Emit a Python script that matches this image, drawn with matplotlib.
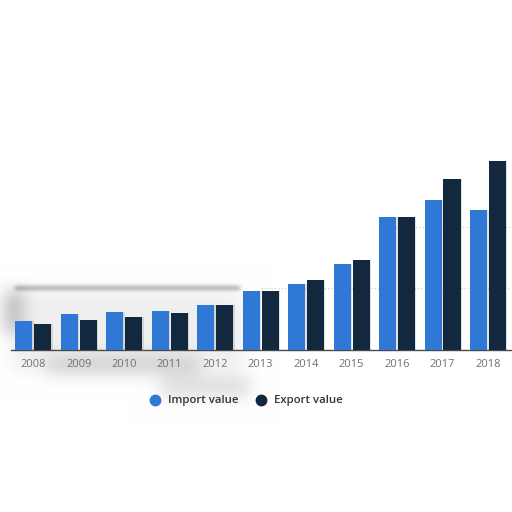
import numpy as np
import matplotlib.pyplot as plt
import matplotlib.patheffects as pe
from matplotlib.lines import Line2D

years = ['2008', '2009', '2010', '2011', '2012', '2013',
         '2014', '2015', '2016', '2017', '2018']
import_value = [46, 58, 61, 63, 72, 96, 106, 139, 215, 243, 227]
export_value = [41, 48, 53, 59, 72, 96, 113, 145, 216, 277, 307]

import_color = '#2f78d6'
export_color = '#12283f'

W, H = 512, 512
fig = plt.figure(figsize=(W / 100, H / 100), dpi=100)


def fx(px):
    return px / W


def fy(py):
    return 1 - py / H


def blur(a, n):
    k = np.exp(-np.linspace(-2.5, 2.5, n) ** 2)
    k /= k.sum()
    for axis in (0, 1):
        a = np.apply_along_axis(lambda m: np.convolve(m, k, mode='same'), axis, a)
    return a


# faint grey smudge behind the left part of the chart
bg = fig.add_axes([0, 0, 1, 1], zorder=0)
bg.axis('off')
yy, xx = np.mgrid[0:H, 0:W]
edge = 0.32 * ((xx > 14) & (xx < 240) & (yy > 285) & (yy < 290))
blobs = 0.06 * ((xx > 10) & (xx < 244) & (yy > 290) & (yy < 370))
blobs = blobs + 0.25 * ((xx > 4) & (xx < 22) & (yy > 290) & (yy < 332))
blobs = blobs + 0.16 * ((xx > 45) & (xx < 200) & (yy > 357) & (yy < 373))
blobs = blobs + 0.14 * ((xx > 160) & (xx < 250) & (yy > 376) & (yy < 396))
shade = 1 - blur(edge, 15) - blur(blobs, 61)
bg.imshow(np.dstack([shade] * 3), extent=[0, 1, 0, 1], aspect='auto', zorder=0)
bg.set_xlim(0, 1)
bg.set_ylim(0, 1)

left, right = 10.5, 510.8
base, top = 349.5, 42.5
ax = fig.add_axes([fx(left), fy(base), fx(right - left), fy(top) - fy(base)], zorder=1)
ax.patch.set_alpha(0)

x = np.arange(len(years))
bw = 0.375
shadow = [pe.SimplePatchShadow(offset=(1, 0), shadow_rgbFace='#888888', alpha=0.25), pe.Normal()]
ax.bar(x - bw / 2 - 0.02, import_value, width=bw, color=import_color, zorder=3, path_effects=shadow)
ax.bar(x + bw / 2 + 0.02, export_value, width=bw, color=export_color, zorder=3, path_effects=shadow)

ax.set_xlim(-0.5, len(years) - 0.5)
ax.set_ylim(0, 500)
ax.hlines(100, 5.0, 10.5, linestyle=(0, (1, 2)), color='#c4c4c4', linewidth=0.8, zorder=1)
ax.hlines(200, 7.6, 10.5, linestyle=(0, (1, 2)), color='#c4c4c4', linewidth=0.8, zorder=1)
ax.set_yticks([])

ax.set_xticks(x)
ax.set_xticklabels(years, fontsize=8, color='#707070', family='Open Sans')
ax.tick_params(axis='x', length=0, pad=6.5)

for s in ['top', 'right', 'left']:
    ax.spines[s].set_visible(False)
ax.spines['bottom'].set_color('#4a4a4a')
ax.spines['bottom'].set_linewidth(1)

handles = [
    Line2D([], [], marker='o', linestyle='none', markersize=7.5,
           markerfacecolor=import_color, markeredgecolor=import_color, label='Import value'),
    Line2D([], [], marker='o', linestyle='none', markersize=7.5,
           markerfacecolor=export_color, markeredgecolor=export_color, label='Export value'),
]
fig.legend(handles=handles, loc='center', bbox_to_anchor=(fx(243), fy(401)),
           ncol=2, frameon=False, handletextpad=0.15, columnspacing=1.0,
           prop={'family': 'Open Sans', 'weight': 'semibold', 'size': 8.2}, labelcolor='#333333')

fig.savefig('out.png', dpi=100)
